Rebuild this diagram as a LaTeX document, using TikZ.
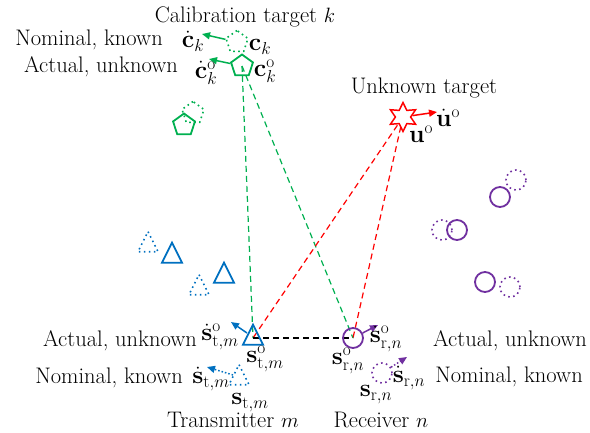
\documentclass[tikz,border=0pt]{standalone}
\usetikzlibrary{shapes.geometric,arrows.meta}
\definecolor{calgreen}{RGB}{0,176,80}
\definecolor{txblue}{RGB}{0,112,192}
\definecolor{rxpurple}{RGB}{112,48,160}
\definecolor{tgtred}{RGB}{255,0,0}
\tikzset{
  shapeline/.style={line width=1.8pt},
  dotline/.style={line width=1.6pt, dash pattern=on 1.6pt off 3.4pt},
  ray/.style={line width=1.2pt, dash pattern=on 6pt off 4pt},
  vel/.style={line width=1.5pt, -{Triangle[length=8pt,width=7pt]}},
  dotvel/.style={line width=1.5pt, dash pattern=on 1.5pt off 2pt, -{Triangle[length=8pt,width=7pt]}},
  txt/.style={anchor=base, inner sep=0},
  sym/.style={inner sep=0, font=\fontsize{24}{28}\selectfont},
  pent/.style={regular polygon, regular polygon sides=5, minimum size=23pt, inner sep=0},
  circ/.style={circle, minimum size=20pt, inner sep=0},
  tri/.pic={\draw[pic actions] (0,-13.3) -- (10,6.7) -- (-10,6.7) -- cycle;}
}
\begin{document}
\begin{tikzpicture}[x=1pt, y=-1pt, font=\fontsize{22.5}{27}\selectfont]
\useasboundingbox (0,0) rectangle (590,432);

% reference points of transmitter, receiver and calibration target
\coordinate (tx) at (253,338);
\coordinate (rx) at (353,338);
\coordinate (cal) at (242,66);
\coordinate (star) at (403,117);

% propagation paths
\draw[ray, calgreen] (cal) -- (tx);
\draw[ray, calgreen] (cal) -- (rx);
\draw[ray, tgtred] (star) -- (tx);
\draw[ray, tgtred] (star) -- (rx);
\draw[ray, black] (tx) -- (rx);

% calibration target k
\node[pent, draw=calgreen, dotline] (ckn) at (237,42) {};
\node[pent, draw=calgreen, shapeline] (cko) at (cal) {};
\coordinate (ckdt) at (202,34);
\coordinate (ckodt) at (209,59);
\draw[vel, calgreen] (ckn) -- (ckdt);
\draw[vel, calgreen] (cko) -- (ckodt);
\node[pent, draw=calgreen, dotline] (cal2n) at (193,113) {};
\node[pent, draw=calgreen, shapeline] (cal2o) at (184,125) {};

\node[txt] (calt) at (245,22) {Calibration target $k$};
\node[txt] (calnom) at (89,45) {Nominal, known};
\node[txt] (calact) at (101,72) {Actual, unknown};
\node[sym] (lckd) at (193,41) {$\dot{\mathbf{c}}_k$};
\node[sym] (lck) at (260,47) {$\mathbf{c}_k$};
\node[sym] (lckod) at (206,73) {$\dot{\mathbf{c}}_k^{\mathrm{o}}$};
\node[sym] (lcko) at (265,71) {$\mathbf{c}_k^{\mathrm{o}}$};

% unknown target
\node[star, star points=6, star point ratio=1.9, minimum size=29pt, inner sep=0,
      draw=tgtred, fill=white, line width=1.5pt] (tgt) at (star) {};
\coordinate (udt) at (437,112);
\draw[vel, tgtred] (tgt) -- (udt);
\node[txt] (tgtt) at (424,93) {Unknown target};
\node[sym] (lud) at (448,118) {$\dot{\mathbf{u}}^{\mathrm{o}}$};
\node[sym] (lu) at (421,134) {$\mathbf{u}^{\mathrm{o}}$};

% transmitters
\pic[draw=txblue, dotline] at (148,245) {tri};
\pic[draw=txblue, shapeline] at (172,256) {tri};
\pic[draw=txblue, dotline] at (199,288) {tri};
\pic[draw=txblue, shapeline] at (224,276) {tri};
\pic[draw=txblue, shapeline] at (tx) {tri};
\pic[draw=txblue, dotline] at (239,378) {tri};
\coordinate (txedge) at (247,333);
\coordinate (txdt) at (231,322);
\draw[vel, txblue] (txedge) -- (txdt);
\coordinate (txnedge) at (233,375);
\coordinate (txndt) at (207,367);
\draw[dotvel, txblue] (txnedge) -- (txndt);

\node[txt] (txact) at (120,346) {Actual, unknown};
\node[txt] (txnom) at (109,383) {Nominal, known};
\node[txt] (txt) at (233,427) {Transmitter $m$};
\node[sym] (lstod) at (220,337) {$\dot{\mathbf{s}}_{\mathrm{t},m}^{\mathrm{o}}$};
\node[sym] (lsto) at (265,359) {$\mathbf{s}_{\mathrm{t},m}^{\mathrm{o}}$};
\node[sym] (lstd) at (211,379) {$\dot{\mathbf{s}}_{\mathrm{t},m}$};
\node[sym] (lst) at (250,403) {$\mathbf{s}_{\mathrm{t},m}$};

% receivers
\node[circ, draw=rxpurple, dotline] (r1n) at (516,180) {};
\node[circ, draw=rxpurple, shapeline] (r1o) at (500,197) {};
\node[circ, draw=rxpurple, dotline] (r2n) at (442,230) {};
\node[circ, draw=rxpurple, shapeline] (r2o) at (457,230) {};
\node[circ, draw=rxpurple, shapeline] (r3o) at (485,282) {};
\node[circ, draw=rxpurple, dotline] (r3n) at (510,287) {};
\node[circ, draw=rxpurple, shapeline] (rxo) at (rx) {};
\node[circ, draw=rxpurple, dotline] (rxn) at (382,373) {};
\coordinate (rxdt) at (378,325);
\coordinate (rxndt) at (407,357);
\draw[vel, rxpurple] (rxo) -- (rxdt);
\draw[dotvel, rxpurple] (rxn) -- (rxndt);

\node[txt] (rxact) at (510,346) {Actual, unknown};
\node[txt] (rxnom) at (509,382) {Nominal, known};
\node[txt] (rxt) at (381,427) {Receiver $n$};
\node[sym] (lsrod) at (386,339) {$\dot{\mathbf{s}}_{\mathrm{r},n}^{\mathrm{o}}$};
\node[sym] (lsro) at (348,361) {$\mathbf{s}_{\mathrm{r},n}^{\mathrm{o}}$};
\node[sym] (lsrd) at (409,378) {$\dot{\mathbf{s}}_{\mathrm{r},n}$};
\node[sym] (lsr) at (376,395) {$\mathbf{s}_{\mathrm{r},n}$};
\end{tikzpicture}
\end{document}
